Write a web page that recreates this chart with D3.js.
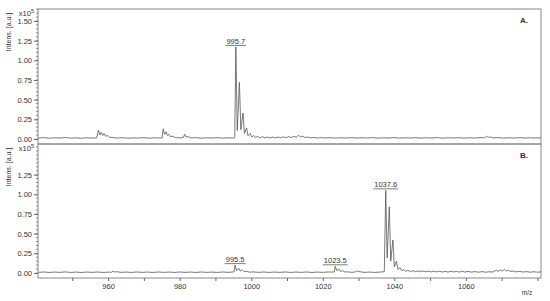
<!DOCTYPE html>
<html>
<head>
<meta charset="utf-8">
<script src="https://cdn.jsdelivr.net/npm/d3@7.9.0/dist/d3.min.js"></script>
<style>
  body { margin: 0; background: #fff; }
  svg text { font-family: "Liberation Sans", Arial, sans-serif; fill: #333; }
</style>
</head>
<body>
<svg id="chart" width="550" height="301"></svg>
<script>
// m/z ticks
const xLabels = [960, 980, 1000, 1020, 1040, 1060];
const xTicks = [950, 960, 970, 980, 990, 1000, 1010, 1020, 1030, 1040, 1050, 1060, 1070, 1080];
const yLabelsA = [0, 0.25, 0.5, 0.75, 1.0, 1.25, 1.5];
const yLabelsB = [0, 0.25, 0.5, 0.75, 1.0, 1.25];

// spectrum A: [m/z, intensity x10^5]
const spectrumA = [
  [940.5,0.012],[942,0.018],[943.5,0.01],[945,0.016],[946.5,0.012],[948,0.019],[949.5,0.011],[951,0.015],
  [952.5,0.009],[954,0.016],[955.5,0.012],[956.8,0.014],
  [957.3,0.11],[957.7,0.05],[958.1,0.085],[958.5,0.045],[958.9,0.07],[959.3,0.035],[959.8,0.045],[960.4,0.022],
  [961.2,0.02],[962.5,0.012],[964,0.017],[965.5,0.01],[967,0.015],[968.5,0.012],[970,0.018],[971.5,0.01],
  [973,0.015],[974.5,0.012],[975.1,0.014],
  [975.4,0.13],[975.8,0.06],[976.2,0.09],[976.6,0.045],[977,0.06],[977.4,0.03],[978,0.035],[978.8,0.018],
  [980,0.014],[981,0.018],[981.4,0.06],[981.8,0.025],[982.3,0.032],[983,0.014],[984.5,0.017],[986,0.01],
  [987.5,0.015],[989,0.012],[990.5,0.017],[992,0.01],[993.5,0.015],[995,0.012],[995.4,0.014],
  [995.7,1.17],[996.1,0.11],[996.7,0.72],[997.1,0.12],[997.7,0.33],[998.1,0.07],[998.7,0.14],[999.1,0.04],
  [999.7,0.07],[1000.2,0.025],[1000.7,0.045],[1001.2,0.018],[1001.8,0.035],[1002.5,0.014],[1003.2,0.03],
  [1003.8,0.014],[1004.5,0.026],[1005.2,0.012],[1006,0.024],[1006.8,0.014],[1007.5,0.026],[1008.3,0.014],
  [1009,0.028],[1009.8,0.016],[1010.5,0.03],[1011.2,0.018],[1012,0.035],[1012.6,0.022],[1013.3,0.048],
  [1013.8,0.025],[1014.4,0.036],[1015,0.018],[1015.8,0.026],[1016.6,0.014],[1017.5,0.02],[1018.5,0.012],
  [1019.5,0.018],[1020.5,0.013],[1022,0.017],[1023.5,0.011],[1025,0.016],[1026.5,0.012],[1028,0.018],
  [1029.5,0.011],[1031,0.016],[1032.5,0.012],[1034,0.018],[1035.5,0.011],[1037,0.016],[1038.5,0.012],
  [1040,0.018],[1041.5,0.011],[1043,0.016],[1044.5,0.012],[1046,0.017],[1047.5,0.011],[1049,0.016],
  [1050.5,0.012],[1052,0.018],[1053.5,0.011],[1055,0.016],[1056.5,0.012],[1058,0.017],[1059.5,0.011],
  [1061,0.016],[1062.5,0.012],[1064,0.018],[1065.2,0.016],[1065.8,0.035],[1066.3,0.02],[1066.8,0.028],
  [1067.5,0.014],[1069,0.018],[1070.5,0.011],[1072,0.016],[1073.5,0.012],[1075,0.018],[1076.5,0.011],
  [1078,0.016],[1079.5,0.012],[1081,0.015]
];

// spectrum B
const spectrumB = [
  [940.5,0.008],[942,0.013],[943.5,0.007],[945,0.012],[946.5,0.008],[948,0.014],[949.5,0.007],[951,0.012],
  [952.5,0.006],[954,0.012],[955.5,0.008],[957,0.013],[958.5,0.007],[960,0.011],[961,0.01],[961.4,0.025],
  [961.9,0.013],[962.6,0.016],[963.5,0.008],[965,0.012],[966.5,0.007],[968,0.013],[969.5,0.008],[971,0.012],
  [972.5,0.007],[974,0.013],[975.5,0.008],[977,0.012],[978.5,0.007],[980,0.013],[981.5,0.008],[983,0.012],
  [984.5,0.007],[986,0.013],[987.5,0.008],[989,0.012],[990.5,0.007],[992,0.013],[993.5,0.008],[995.2,0.014],
  [995.5,0.1],[995.9,0.03],[996.5,0.06],[996.9,0.025],[997.5,0.04],[998,0.016],[998.7,0.022],[999.5,0.01],
  [1000.5,0.014],[1002,0.008],[1003.5,0.013],[1005,0.007],[1006.5,0.012],[1008,0.008],[1009.5,0.013],
  [1011,0.007],[1012.5,0.012],[1014,0.008],[1015.5,0.013],[1017,0.007],[1018.5,0.012],[1020,0.008],
  [1021.5,0.013],[1023.2,0.012],[1023.5,0.085],[1023.9,0.03],[1024.5,0.05],[1024.9,0.02],[1025.5,0.03],
  [1026.2,0.012],[1027,0.015],[1028,0.008],[1029.2,0.014],[1029.5,0.03],[1029.9,0.018],[1030.5,0.016],
  [1031.5,0.008],[1033,0.012],[1034.5,0.007],[1036,0.012],[1037.2,0.016],
  [1037.6,1.05],[1038.0,0.19],[1038.6,0.84],[1039.0,0.15],[1039.6,0.42],[1040.0,0.08],[1040.6,0.15],
  [1041.0,0.045],[1041.6,0.07],[1042.1,0.028],[1042.6,0.042],[1043.2,0.022],[1043.8,0.034],[1044.5,0.018],
  [1045.2,0.03],[1045.9,0.016],[1046.6,0.027],[1047.3,0.015],[1048,0.026],[1048.8,0.014],[1049.5,0.024],
  [1050.3,0.013],[1051,0.024],[1051.8,0.014],[1052.6,0.022],[1053.4,0.012],[1054.2,0.021],[1055,0.012],
  [1055.8,0.022],[1056.6,0.013],[1057.4,0.02],[1058.2,0.012],[1059,0.021],[1059.8,0.012],[1060.6,0.02],
  [1061.5,0.011],[1062.5,0.018],[1063.5,0.01],[1064.5,0.017],[1065.5,0.01],[1066.5,0.016],[1067.5,0.012],
  [1068.5,0.035],[1069,0.02],[1069.6,0.04],[1070.2,0.025],[1070.8,0.045],[1071.3,0.025],[1071.9,0.036],
  [1072.5,0.018],[1073.2,0.026],[1074,0.014],[1075,0.02],[1076,0.012],[1077,0.018],[1078,0.01],
  [1079,0.016],[1080,0.01],[1081,0.014]
];

const peakLabelsA = [{ mz: 995.7, y: 1.17, text: "995.7" }];
const peakLabelsB = [
  { mz: 995.5, y: 0.1, text: "995.5" },
  { mz: 1023.5, y: 0.085, text: "1023.5" },
  { mz: 1037.6, y: 1.05, text: "1037.6" }
];

const svg = d3.select("#chart");
const left = 38, right = 541;
const x = d3.scaleLinear().domain([940.4, 1081]).range([left, right]);

const panels = [
  { top: 9, bottom: 144, zero: 139, data: spectrumA, labels: yLabelsA, peaks: peakLabelsA, tag: "A." },
  { top: 144, bottom: 278, zero: 273, data: spectrumB, labels: yLabelsB, peaks: peakLabelsB, tag: "B." }
];

const pxPerUnit = 78.7;

panels.forEach((p, i) => {
  const y = d3.scaleLinear()
    .domain([0, (p.zero - p.top) / pxPerUnit])
    .range([p.zero, p.top]);
  const g = svg.append("g");

  // frame
  g.append("rect")
    .attr("x", left).attr("y", p.top)
    .attr("width", right - left).attr("height", p.bottom - p.top)
    .attr("fill", "none").attr("stroke", "#888").attr("stroke-width", 1);

  // y axis minor ticks
  const minor = d3.range(0, y.domain()[1], 0.05);
  g.selectAll(".minor").data(minor).join("line")
    .attr("x1", left - 2).attr("x2", left)
    .attr("y1", d => y(d)).attr("y2", d => y(d))
    .attr("stroke", "#666").attr("stroke-width", 0.7);

  // y axis major ticks + labels
  const yAxis = d3.axisLeft(y).tickValues(p.labels).tickFormat(d3.format(".2f")).tickSize(4).tickPadding(2);
  const ya = g.append("g").attr("transform", `translate(${left},0)`).call(yAxis);
  ya.select(".domain").remove();
  ya.selectAll("line").attr("stroke", "#666");
  ya.selectAll("text").attr("font-size", 7.5).attr("fill", "#333").style("font-family", "Liberation Sans, Arial, sans-serif");

  // x10^5
  const ex = g.append("text").attr("x", left - 4).attr("y", p.top + 7)
    .attr("text-anchor", "end").attr("font-size", 7.5);
  ex.append("tspan").text("x10");
  ex.append("tspan").attr("font-size", 5.5).attr("dy", -3).text("5");

  // y title
  g.append("text")
    .attr("transform", `translate(11,${p.top + 23}) rotate(-90)`)
    .attr("text-anchor", "middle").attr("font-size", 7)
    .text("Intens. [a.u.]");

  // panel tag
  g.append("text").attr("x", 524).attr("y", p.top + 14)
    .attr("text-anchor", "middle").attr("font-size", 8).attr("font-weight", "bold")
    .text(p.tag);

  // spectrum line
  const line = d3.line().x(d => x(d[0])).y(d => y(d[1]));
  g.append("path").datum(p.data)
    .attr("d", line)
    .attr("fill", "none").attr("stroke", "#555").attr("stroke-width", 0.8);

  // peak labels
  p.peaks.forEach(pk => {
    const tx = g.append("text")
      .attr("x", x(pk.mz)).attr("y", y(pk.y) - 3)
      .attr("text-anchor", "middle").attr("font-size", 7.5)
      .text(pk.text);
    const w = tx.node().getComputedTextLength();
    g.append("line")
      .attr("x1", x(pk.mz) - w / 2 - 1).attr("x2", x(pk.mz) + w / 2 + 1)
      .attr("y1", y(pk.y) - 1.5).attr("y2", y(pk.y) - 1.5)
      .attr("stroke", "#444").attr("stroke-width", 0.7);
  });

  // x axis on bottom panel
  if (i === 1) {
    const xAxis = d3.axisBottom(x).tickValues(xTicks)
      .tickFormat(d => xLabels.includes(d) ? d : "").tickSize(3).tickPadding(3);
    const xa = g.append("g").attr("transform", `translate(0,${p.bottom})`).call(xAxis);
    xa.select(".domain").remove();
    xa.selectAll("line").attr("stroke", "#666");
    xa.selectAll("text").attr("font-size", 7.5).attr("fill", "#333").style("font-family", "Liberation Sans, Arial, sans-serif");
    g.append("text").attr("x", 527).attr("y", 295)
      .attr("text-anchor", "middle").attr("font-size", 6.5).text("m/z");
  }
});
</script>
</body>
</html>
